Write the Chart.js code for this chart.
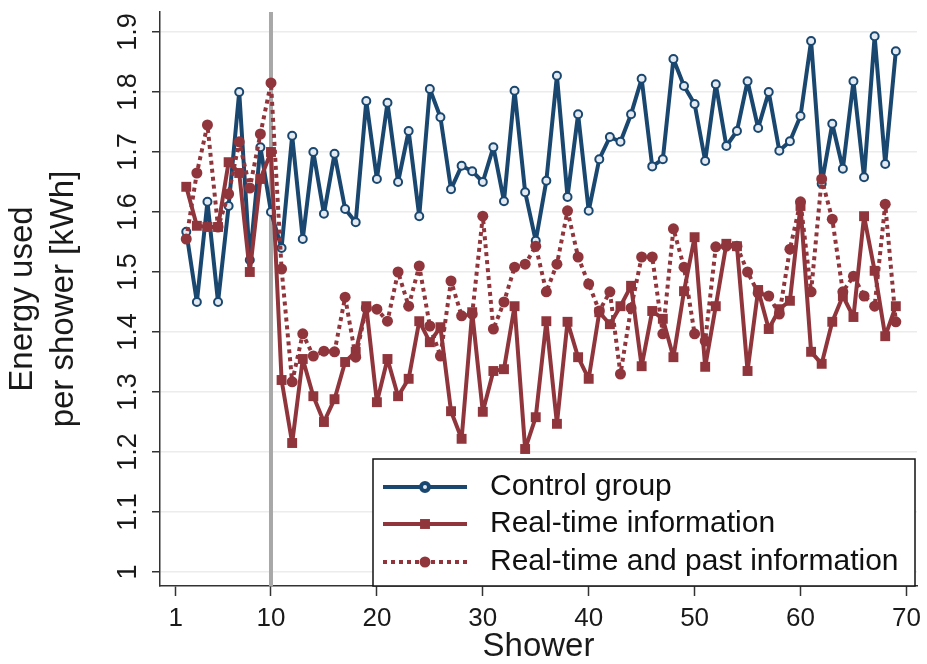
<!DOCTYPE html>
<html>
<head>
<meta charset="utf-8">
<script src="https://cdn.jsdelivr.net/npm/chart.js@4.4.0/dist/chart.umd.min.js"></script>
<style>
  html, body { margin: 0; padding: 0; background: #fff; }
  canvas { display: block; }
</style>
</head>
<body>
<canvas id="showerChart" width="927" height="664"></canvas>
<script>
// Shower number (x) and energy per shower in kWh (y)
const showers = [2, 3, 4, 5, 6, 7, 8, 9, 10, 11, 12, 13, 14, 15, 16, 17, 18, 19, 20, 21,
  22, 23, 24, 25, 26, 27, 28, 29, 30, 31, 32, 33, 34, 35, 36, 37, 38, 39, 40, 41,
  42, 43, 44, 45, 46, 47, 48, 49, 50, 51, 52, 53, 54, 55, 56, 57, 58, 59, 60, 61,
  62, 63, 64, 65, 66, 67, 68, 69];

const controlGroup = [1.567, 1.45, 1.617, 1.45, 1.61, 1.80, 1.52, 1.708, 1.60, 1.54,
  1.727, 1.555, 1.70, 1.597, 1.697, 1.605, 1.583, 1.785, 1.655, 1.782,
  1.65, 1.735, 1.593, 1.805, 1.758, 1.638, 1.677, 1.668, 1.65, 1.708,
  1.618, 1.802, 1.633, 1.552, 1.652, 1.827, 1.625, 1.763, 1.602, 1.688,
  1.725, 1.717, 1.763, 1.822, 1.676, 1.688, 1.855, 1.81, 1.78, 1.685,
  1.813, 1.71, 1.735, 1.818, 1.74, 1.80, 1.702, 1.718, 1.76, 1.885,
  1.647, 1.747, 1.672, 1.818, 1.658, 1.893, 1.68, 1.868];

const realTime = [1.642, 1.577, 1.575, 1.575, 1.683, 1.665, 1.50, 1.655, 1.70, 1.32,
  1.215, 1.355, 1.293, 1.25, 1.288, 1.35, 1.367, 1.443, 1.283, 1.355,
  1.293, 1.322, 1.418, 1.383, 1.408, 1.268, 1.222, 1.433, 1.267, 1.335,
  1.338, 1.443, 1.205, 1.258, 1.418, 1.247, 1.417, 1.358, 1.322, 1.433,
  1.413, 1.443, 1.477, 1.343, 1.435, 1.422, 1.358, 1.468, 1.558, 1.342,
  1.443, 1.547, 1.543, 1.335, 1.47, 1.405, 1.438, 1.452, 1.61, 1.367,
  1.347, 1.417, 1.46, 1.425, 1.593, 1.502, 1.393, 1.443];

const realTimePast = [1.555, 1.665, 1.745, 1.575, 1.63, 1.717, 1.64, 1.73, 1.815, 1.505,
  1.317, 1.397, 1.36, 1.368, 1.367, 1.458, 1.358, 1.44, 1.438, 1.418,
  1.50, 1.443, 1.51, 1.41, 1.36, 1.485, 1.427, 1.43, 1.593, 1.405,
  1.45, 1.508, 1.513, 1.543, 1.467, 1.513, 1.602, 1.525, 1.48, 1.435,
  1.467, 1.33, 1.44, 1.525, 1.525, 1.397, 1.572, 1.508, 1.397, 1.385,
  1.542, 1.543, 1.543, 1.50, 1.465, 1.46, 1.43, 1.538, 1.617, 1.467,
  1.655, 1.588, 1.467, 1.493, 1.46, 1.443, 1.613, 1.417];

const xTicks = [1, 10, 20, 30, 40, 50, 60, 70];
const yTicks = [1, 1.1, 1.2, 1.3, 1.4, 1.5, 1.6, 1.7, 1.8, 1.9];
const yTickLabels = ['1', '1.1', '1.2', '1.3', '1.4', '1.5', '1.6', '1.7', '1.8', '1.9'];
const interventionStart = 10;

const NAVY = '#1a476f';
const MAROON = '#90353b';
const FONT = '"Liberation Sans", Arial, sans-serif';

const toPoints = ys => showers.map((s, i) => ({ x: s, y: ys[i] }));

// grey vertical line marking the start of the intervention
const startLine = {
  id: 'startLine',
  beforeDatasetsDraw(chart) {
    const { ctx, chartArea, scales } = chart;
    const x = scales.x.getPixelForValue(interventionStart);
    ctx.save();
    ctx.strokeStyle = '#a8a8a8';
    ctx.lineWidth = 4;
    ctx.beginPath();
    ctx.moveTo(x, chartArea.top);
    ctx.lineTo(x, chartArea.bottom);
    ctx.stroke();
    ctx.restore();
  }
};

// boxed legend sitting inside the plot, bottom right
const insideLegend = {
  id: 'insideLegend',
  afterDraw(chart) {
    const { ctx, chartArea } = chart;
    const left = 373, top = 459, right = chartArea.right - 2, bottom = chartArea.bottom;
    const rows = [487, 524, 562];
    ctx.save();
    ctx.fillStyle = '#fff';
    ctx.fillRect(left, top, right - left, bottom - top);
    ctx.strokeStyle = '#111';
    ctx.lineWidth = 1.5;
    ctx.strokeRect(left, top, right - left, bottom - top);

    chart.data.datasets.forEach((ds, i) => {
      const y = rows[i];
      ctx.strokeStyle = ds.borderColor;
      ctx.lineWidth = ds.borderWidth;
      ctx.setLineDash(ds.borderDash || []);
      ctx.beginPath();
      ctx.moveTo(383, y);
      ctx.lineTo(467, y);
      ctx.stroke();
      ctx.setLineDash([]);

      ctx.fillStyle = ds.pointBackgroundColor;
      ctx.strokeStyle = ds.pointBorderColor;
      Chart.helpers.drawPoint(ctx, {
        pointStyle: ds.pointStyle,
        radius: ds.pointRadius,
        borderWidth: ds.pointBorderWidth,
        rotation: 0
      }, 425, y);

      ctx.fillStyle = '#111';
      ctx.font = '30px ' + FONT;
      ctx.textAlign = 'left';
      ctx.textBaseline = 'middle';
      ctx.fillText(ds.label, 490, y);
    });
    ctx.restore();
  }
};

const noEdgePadding = scale => {
  scale.paddingTop = 0;
  scale.paddingBottom = 0;
  scale.paddingLeft = 0;
  scale.paddingRight = 0;
};

const ctx = document.getElementById('showerChart').getContext('2d');
new Chart(ctx, {
  type: 'line',
  data: {
    datasets: [{
      label: 'Control group',
      data: toPoints(controlGroup),
      borderColor: NAVY,
      borderWidth: 4,
      borderJoinStyle: 'round',
      pointStyle: 'circle',
      pointRadius: 4,
      pointBorderWidth: 2,
      pointBorderColor: NAVY,
      pointBackgroundColor: '#e4eaf1',
      order: 3
    }, {
      label: 'Real-time information',
      data: toPoints(realTime),
      borderColor: MAROON,
      borderWidth: 4,
      borderJoinStyle: 'round',
      pointStyle: 'rect',
      pointRadius: 7,
      pointBorderWidth: 0,
      pointBorderColor: MAROON,
      pointBackgroundColor: MAROON,
      order: 2
    }, {
      label: 'Real-time and past information',
      data: toPoints(realTimePast),
      borderColor: MAROON,
      borderWidth: 4,
      borderDash: [4, 4],
      borderJoinStyle: 'round',
      pointStyle: 'circle',
      pointRadius: 5.5,
      pointBorderWidth: 0,
      pointBorderColor: MAROON,
      pointBackgroundColor: MAROON,
      order: 1
    }]
  },
  options: {
    responsive: false,
    animation: false,
    layout: { padding: { top: 12, right: 10, bottom: 0, left: 0 } },
    plugins: { legend: { display: false }, tooltip: { enabled: false } },
    elements: { line: { tension: 0 } },
    scales: {
      x: {
        type: 'linear',
        min: -0.48,
        max: 71.0,
        afterBuildTicks: scale => { scale.ticks = xTicks.map(v => ({ value: v })); },
        afterFit: scale => { scale.height = 78; noEdgePadding(scale); },
        ticks: {
          color: '#1a1a1a',
          font: { family: FONT, size: 26 },
          padding: 7,
          maxRotation: 0,
          callback: v => String(v)
        },
        grid: { drawOnChartArea: false, drawTicks: true, tickLength: 10, tickColor: '#333', tickWidth: 1.5 },
        border: { color: '#333', width: 1.5 },
        title: {
          display: true,
          text: 'Shower',
          color: '#1a1a1a',
          font: { family: FONT, size: 33, lineHeight: 1.0 },
          padding: { top: 0, bottom: 0.5 }
        }
      },
      y: {
        min: 0.9767,
        max: 1.9333,
        afterBuildTicks: scale => { scale.ticks = yTicks.map(v => ({ value: v })); },
        afterFit: scale => { scale.width = 160; noEdgePadding(scale); },
        ticks: {
          color: '#1a1a1a',
          font: { family: FONT, size: 27 },
          padding: 5,
          minRotation: 90,
          maxRotation: 90,
          crossAlign: 'center',
          callback: (v, i) => yTickLabels[i]
        },
        grid: { color: '#ececec', lineWidth: 1.5, tickLength: 8, tickColor: '#333', tickWidth: 1.5 },
        border: { color: '#333', width: 1.5 },
        title: {
          display: true,
          text: ['Energy used', 'per shower [kWh]'],
          color: '#1a1a1a',
          font: { family: FONT, size: 33, lineHeight: 1.242 },
          padding: { top: 2.5, bottom: 0 }
        }
      }
    }
  },
  plugins: [startLine, insideLegend]
});
</script>
</body>
</html>
